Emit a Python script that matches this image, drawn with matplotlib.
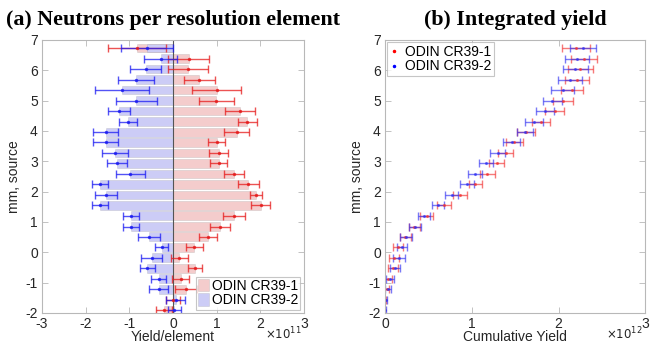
import matplotlib.pyplot as plt
from matplotlib.lines import Line2D

plt.rcParams['font.family'] = ['Liberation Sans', 'DejaVu Sans']
plt.rcParams['axes.unicode_minus'] = False

# source position of each resolution element (mm)
pos = [-1.91, -1.56, -1.22, -0.87, -0.53, -0.18, 0.16, 0.51, 0.85, 1.20,
       1.55, 1.89, 2.24, 2.58, 2.93, 3.27, 3.62, 3.96, 4.31, 4.66,
       5.00, 5.35, 5.69, 6.04, 6.38, 6.73]

# neutrons per element, x1e11 (CR39-2 is drawn to the left)
cr1 = [-0.20, 0.00, 0.30, 0.18, 0.50, 0.15, 0.49, 0.81, 1.08, 1.39,
       2.01, 1.905, 1.725, 1.40, 1.05, 1.05, 1.005, 1.465, 1.70, 1.535,
       0.99, 1.00, 0.60, 0.35, 0.36, -0.83]
cr1_err = [0.19, 0.16, 0.26, 0.19, 0.165, 0.19, 0.20, 0.21, 0.23, 0.25,
           0.22, 0.135, 0.245, 0.22, 0.20, 0.22, 0.195, 0.285, 0.22, 0.345,
           0.40, 0.555, 0.355, 0.46, 0.47, 0.66]
cr2 = [0.03, 0.06, -0.33, -0.325, -0.585, -0.49, -0.26, -0.54, -0.96, -0.955,
       -1.67, -1.54, -1.67, -0.975, -1.29, -1.33, -1.54, -1.54, -1.03, -1.24,
       -0.835, -1.16, -0.84, -0.62, -0.28, -0.60]
cr2_err = [0.15, 0.22, 0.22, 0.175, 0.175, 0.23, 0.15, 0.25, 0.185, 0.185,
           0.18, 0.25, 0.18, 0.325, 0.23, 0.29, 0.29, 0.29, 0.20, 0.25,
           0.465, 0.62, 0.41, 0.355, 0.38, 0.60]

# integrated yield, x1e12
cum1 = [-0.005, 0.0, 0.02, 0.04, 0.09, 0.107, 0.155, 0.235, 0.34, 0.48,
        0.68, 0.865, 1.04, 1.18, 1.285, 1.39, 1.49, 1.625, 1.795, 1.955,
        2.055, 2.155, 2.21, 2.25, 2.29, 2.20]
cum1_err = [0.01, 0.015, 0.03, 0.045, 0.055, 0.058, 0.058, 0.065, 0.065, 0.075,
            0.078, 0.08, 0.075, 0.085, 0.085, 0.09, 0.096, 0.105, 0.1, 0.107,
            0.115, 0.125, 0.135, 0.14, 0.146, 0.16]
cum2 = [0.005, 0.01, 0.035, 0.058, 0.115, 0.163, 0.195, 0.245, 0.345, 0.45,
        0.612, 0.772, 0.94, 1.04, 1.165, 1.30, 1.46, 1.615, 1.715, 1.845,
        1.925, 2.045, 2.13, 2.19, 2.215, 2.28]
cum2_err = [0.01, 0.015, 0.033, 0.046, 0.058, 0.067, 0.061, 0.067, 0.065, 0.065,
            0.07, 0.075, 0.08, 0.083, 0.085, 0.088, 0.1, 0.092, 0.1, 0.105,
            0.11, 0.134, 0.138, 0.144, 0.14, 0.154]

red_face = '#f4cccc'
blue_face = '#ccccf6'
red_line = (0.9, 0.1, 0.1, 0.75)
blue_line = (0.1, 0.1, 0.95, 0.75)
grey = '#b8b8b8'
txt = '#262626'


def style_axes(ax):
    for s in ax.spines.values():
        s.set_color(grey)
        s.set_linewidth(0.8)
    ax.tick_params(direction='in', length=4, width=0.6, color=grey,
                   labelsize=10, labelcolor=txt, top=True, right=True, pad=3)
    ax.set_ylim(-2, 7)
    ax.set_yticks(range(-2, 8))


fig = plt.figure(figsize=(6.58, 3.47), dpi=100)
ax1 = fig.add_axes([0.0638, 0.098, 0.398, 0.787])
ax2 = fig.add_axes([0.585, 0.098, 0.396, 0.787])

# (a) per element
b1 = ax1.barh(pos, cr1, height=0.29, color=red_face,
              edgecolor=(0.5, 0.5, 0.5, 0.25), linewidth=0.5, label='ODIN CR39-1')
b2 = ax1.barh(pos, cr2, height=0.29, color=blue_face,
              edgecolor=(0.5, 0.5, 0.5, 0.25), linewidth=0.5, label='ODIN CR39-2')
ax1.axvline(0, color='#555555', linewidth=0.8)
ax1.errorbar(cr1, pos, xerr=cr1_err, fmt='.', color=red_line, markersize=3,
             elinewidth=1.0, capsize=3, capthick=1.0)
ax1.errorbar(cr2, pos, xerr=cr2_err, fmt='.', color=blue_line, markersize=3,
             elinewidth=1.0, capsize=3, capthick=1.0)
style_axes(ax1)
ax1.set_xlim(-3, 3)
ax1.set_xticks(range(-3, 4))
ax1.set_xlabel('Yield/element', fontsize=10, color=txt, labelpad=-1)
ax1.set_ylabel('mm, source', fontsize=10, color=txt, labelpad=3)
ax1.set_title('(a) Neutrons per resolution element', fontsize=15.8,
              fontweight='bold', family='Liberation Serif', pad=11)
ax1.text(0.99, -0.095, r'$\times10^{11}$', transform=ax1.transAxes,
         ha='right', va='baseline', fontsize=8.5, color=txt)
leg1 = ax1.legend(handles=[b1, b2], loc='lower right', fontsize=10,
                  frameon=True, fancybox=False, borderaxespad=0.25,
                  handlelength=0.8, handleheight=1.0, handletextpad=0.2,
                  borderpad=0.15, labelspacing=0.05)
leg1.get_frame().set_edgecolor(grey)
leg1.get_frame().set_linewidth(0.8)

# (b) integrated
ax2.errorbar(cum1, pos, xerr=cum1_err, fmt='.', color=(0.95, 0.2, 0.2, 0.65),
             markersize=2.5, elinewidth=1.0, capsize=3, capthick=1.0)
ax2.errorbar(cum2, pos, xerr=cum2_err, fmt='.', color=(0.2, 0.2, 0.95, 0.65),
             markersize=2.5, elinewidth=1.0, capsize=3, capthick=1.0)
style_axes(ax2)
ax2.set_xlim(0, 3)
ax2.set_xticks(range(0, 4))
ax2.set_xlabel('Cumulative Yield', fontsize=10, color=txt, labelpad=-1)
ax2.set_ylabel('mm, source', fontsize=10, color=txt, labelpad=3)
ax2.set_title('(b) Integrated yield', fontsize=15.8, fontweight='bold',
              family='Liberation Serif', pad=11)
ax2.text(0.99, -0.095, r'$\times10^{12}$', transform=ax2.transAxes,
         ha='right', va='baseline', fontsize=8.5, color=txt)
h = [Line2D([], [], ls='none', marker='.', markersize=3, color='red'),
     Line2D([], [], ls='none', marker='.', markersize=3, color='blue')]
leg2 = ax2.legend(h, ['ODIN CR39-1', 'ODIN CR39-2'], loc='upper left',
                  fontsize=10, frameon=True, fancybox=False, borderaxespad=0.15,
                  handlelength=0.6, handletextpad=0.5, borderpad=0.2,
                  labelspacing=0.05)
leg2.get_frame().set_edgecolor(grey)
leg2.get_frame().set_linewidth(0.8)

plt.savefig('out.png', dpi=100)
